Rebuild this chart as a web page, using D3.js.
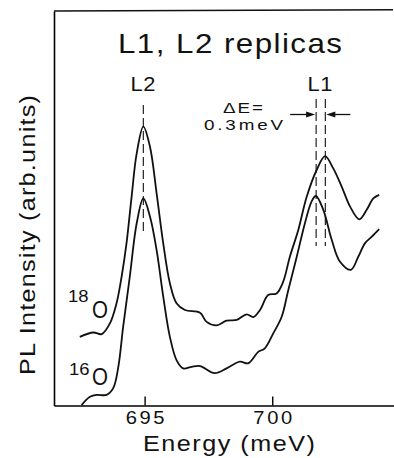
<!DOCTYPE html>
<html>
<head>
<meta charset="utf-8">
<script src="https://cdn.jsdelivr.net/npm/d3@7"></script>
<style>
    html, body { margin: 0; padding: 0; background: #fff; }
    svg { display: block; font-family: "Liberation Sans", Arial, sans-serif; }
</style>
</head>
<body>
<svg id="chart" width="394" height="458"></svg>
<script>
// energy (meV) / intensity (arb.)
const energy18O = [692.46, 692.99, 693.32, 693.64, 693.90, 694.10, 694.29, 694.49, 694.69, 694.95, 695.21, 695.47, 695.73, 695.99, 696.25, 696.58, 697.17, 697.43, 697.82, 698.21, 698.61, 699.00, 699.26, 699.52, 699.84, 700.17, 700.43, 700.69, 701.02, 701.35, 701.74, 702.07, 702.39, 702.72, 703.05, 703.41, 703.70, 703.96, 704.19];
const intensity18O = [17.4, 18.5, 18.1, 20.8, 25.9, 32.7, 41.1, 52.9, 63.9, 70.7, 65.6, 53.8, 41.1, 31.0, 25.9, 24.2, 23.5, 21.2, 20.3, 21.5, 21.7, 23.1, 22.4, 24.2, 28.0, 28.4, 31.4, 37.7, 44.5, 52.9, 59.7, 63.2, 60.1, 55.5, 50.4, 47.2, 49.6, 52.5, 53.4];

const energy16O = [692.53, 692.86, 693.12, 693.51, 693.77, 693.97, 694.16, 694.42, 694.69, 694.95, 695.21, 695.47, 695.73, 695.99, 696.25, 696.51, 696.84, 697.17, 697.75, 698.21, 698.73, 699.06, 699.45, 699.71, 700.04, 700.37, 700.63, 700.96, 701.28, 701.54, 701.71, 702.00, 702.33, 702.65, 703.08, 703.37, 703.63, 703.90, 704.19];
const intensity16O = [0.1, 2.2, 2.7, 2.7, 4.4, 9.8, 20.0, 32.7, 46.2, 52.5, 47.9, 39.4, 27.6, 17.4, 11.5, 9.4, 9.8, 10.0, 8.2, 9.4, 11.1, 10.7, 13.6, 14.5, 18.3, 22.5, 29.3, 37.7, 46.2, 51.7, 53.1, 49.6, 42.0, 36.5, 34.4, 37.7, 41.1, 42.8, 44.7];

const xTicks = [695, 700];
const markerL2 = [694.95];
const markerL1 = [701.72, 702.08];

class replicaChart {

    constructor({svg, padding = [11, 0, 52.5, 54]}) {
        this.svg = d3.select(svg);
        this.width = +svg.getAttribute("width");
        this.height = +svg.getAttribute("height");
        this.padding = {top: padding[0], right: padding[1], bottom: padding[2], left: padding[3]};
    }

    create() {
        this.x = d3.scaleLinear().domain([691.45, 704.77])
            .range([this.padding.left, this.width - this.padding.right]);
        this.y = d3.scaleLinear().domain([0, 100])
            .range([this.height - this.padding.bottom, this.padding.top]);
        this._drawAxes();
        this._drawMarkers();
        this._drawCurves();
        this._drawTexts();
    }

    // the original lettering is wide and airy: a little glyph stretch, the rest as spacing
    _fit(sel, len, pre, maxK = 1.12) {
        const w = sel.node().getComputedTextLength();
        const k = Math.min(len / w, maxK);
        sel.attr("transform", `${pre} scale(${k.toFixed(3)},1)`);
        if (len / k > w + 0.5) sel.attr("textLength", (len / k).toFixed(1)).attr("lengthAdjust", "spacing");
        return sel;
    }

    _drawAxes() {
        const x = this.x, y = this.y;
        const gx = this.svg.append("g")
            .attr("transform", `translate(0,${y(0)})`)
            .call(d3.axisBottom(x).tickValues(xTicks).tickFormat(d3.format("d"))
                .tickSizeInner(-9).tickSizeOuter(0).tickPadding(6));
        gx.select(".domain").attr("stroke-width", 1.6);
        gx.selectAll(".tick line").attr("stroke-width", 1.4);
        const self = this;
        gx.selectAll(".tick text")
            .attr("font-size", 18).attr("font-family", "Liberation Sans, Arial, sans-serif")
            .attr("fill", "#111")
            .each(function () {
                const s = d3.select(this);
                self._fit(s, 39, `translate(0,${s.attr("y")})`).attr("y", 0);
            });

        const gy = this.svg.append("g")
            .attr("transform", `translate(${x.range()[0]},0)`)
            .call(d3.axisLeft(y).tickValues([]).tickSizeOuter(0));
        gy.select(".domain").attr("stroke-width", 1.6);

        // top frame edge
        this.svg.append("line")
            .attr("x1", x.range()[0]).attr("x2", x.range()[1] - 1)
            .attr("y1", y(100)).attr("y2", y(100.3))
            .attr("stroke", "#111").attr("stroke-width", 1.4);
    }

    _drawCurves() {
        const line = d3.line()
            .x(d => this.x(d[0]))
            .y(d => this.y(d[1]))
            .curve(d3.curveCatmullRom.alpha(0.5));
        const series = [d3.zip(energy18O, intensity18O), d3.zip(energy16O, intensity16O)];
        this.svg.append("g").selectAll("path")
            .data(series)
            .enter().append("path")
            .attr("d", line)
            .attr("fill", "none")
            .attr("stroke", "#111")
            .attr("stroke-width", 1.8)
            .attr("stroke-linejoin", "round");
    }

    _drawMarkers() {
        const x = this.x;
        const g = this.svg.append("g")
            .attr("stroke", "#222").attr("stroke-width", 1.2).attr("stroke-dasharray", "9,4");
        g.selectAll(".l2").data(markerL2).enter().append("line")
            .attr("x1", d => x(d)).attr("x2", d => x(d))
            .attr("y1", 105).attr("y2", 232);
        g.selectAll(".l1").data(markerL1).enter().append("line")
            .attr("x1", d => x(d)).attr("x2", d => x(d))
            .attr("y1", 99).attr("y2", 246);

        // ΔE arrows
        const ay = 114.5;
        const arrows = [
            {from: x(markerL1[0]) - 26, to: x(markerL1[0]) - 1},
            {from: x(markerL1[1]) + 25, to: x(markerL1[1]) + 1}
        ];
        const ga = this.svg.append("g");
        arrows.forEach(a => {
            const dir = Math.sign(a.to - a.from);
            ga.append("line")
                .attr("x1", a.from).attr("x2", a.to - dir * 6)
                .attr("y1", ay).attr("y2", ay)
                .attr("stroke", "#111").attr("stroke-width", 1.3);
            ga.append("path")
                .attr("d", `M${a.to},${ay}L${a.to - dir * 9},${ay - 3}L${a.to - dir * 9},${ay + 3}Z`)
                .attr("fill", "#111");
        });
    }

    _drawTexts() {
        const t = (s, x, y, size, len, anchor = "middle", maxK) => this._fit(
            this.svg.append("text")
                .attr("font-size", size).attr("fill", "#111")
                .attr("text-anchor", anchor)
                .text(s),
            len, `translate(${x},${y})`, maxK);

        t("L1, L2  replicas", 230, 53, 28, 224);
        t("L2", 143, 91, 19.5, 25);
        t("L1", 320, 91, 19.5, 25);
        t("Energy (meV)", 229, 451, 22.5, 172);

        // ΔE note, two tight lines
        t("ΔE=", 243, 113, 14.5, 40, "middle", 1.3);
        t("0.3meV", 243.5, 130, 14.5, 79, "middle", 1.3);

        // isotope labels
        t("18", 68, 302, 16.5, 21, "start");
        t("O", 92, 318, 24, 16, "start");
        t("16", 69, 375, 16.5, 21, "start");
        t("O", 92, 385, 24, 16, "start");

        this._fit(
            this.svg.append("text")
                .attr("text-anchor", "middle")
                .attr("font-size", 22.5).attr("fill", "#111")
                .text("PL Intensity (arb.units)"),
            280, "translate(35,235) rotate(-90)");
    }
}

new replicaChart({svg: document.getElementById("chart")}).create();
</script>
</body>
</html>
